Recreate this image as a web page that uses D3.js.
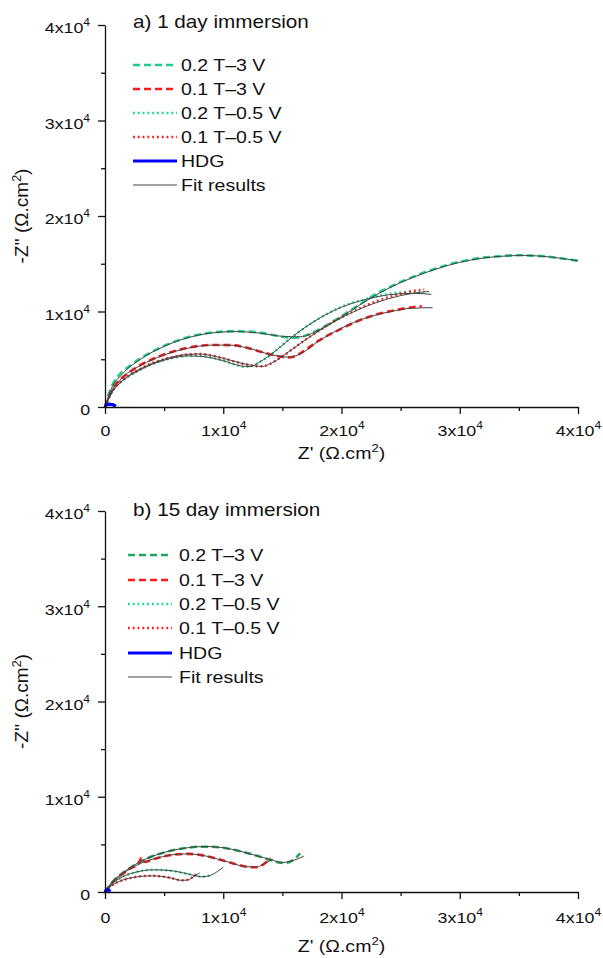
<!DOCTYPE html>
<html><head><meta charset="utf-8">
<script src="https://cdn.jsdelivr.net/npm/d3@7"></script>
<style>
html,body{margin:0;padding:0;background:#fff;}
svg{display:block;font-family:"Liberation Sans",Arial,sans-serif;}
</style></head>
<body>
<svg id="chart" width="603" height="958"></svg>
<script>
// ---------- DATA ----------
const xTicksMajor = [0, 10000, 20000, 30000, 40000];
const yTicksMajor = [0, 10000, 20000, 30000, 40000];
const ticksMinor = [5000, 15000, 25000, 35000];
const legendLabels = ["0.2 T\u20133 V", "0.1 T\u20133 V", "0.2 T\u20130.5 V", "0.1 T\u20130.5 V", "HDG", "Fit results"];
const panelTitles = ["a) 1 day immersion", "b) 15 day immersion"];

// Panel a) 1 day immersion  [Z', -Z'']
const day1_02T3V = [[0,0],[300,1300],[700,2500],[1300,3500],[2000,4200],[3000,5100],[4000,5800],[5000,6400],[6000,6900],[7000,7300],[8000,7600],[9000,7800],[10000,7900],[11000,7950],[12000,7900],[13000,7800],[14000,7600],[15000,7350],[16000,7250],[17000,7500],[18000,8050],[19000,8750],[20000,9500],[21000,10300],[22000,11100],[23000,11900],[24000,12500],[25000,13100],[26000,13600],[27000,14100],[28000,14500],[29000,14900],[30000,15200],[31000,15450],[32000,15650],[33000,15750],[34000,15850],[35000,15900],[36000,15850],[37000,15800],[38000,15650],[39000,15500],[40000,15300]];
const day1_01T3V = [[0,0],[300,1000],[700,2000],[1300,2900],[2000,3600],[3000,4400],[4000,5000],[5000,5500],[6000,5900],[7000,6200],[8000,6400],[9000,6500],[10000,6500],[11000,6450],[12000,6200],[13000,5850],[14000,5500],[15000,5250],[15500,5200],[16000,5300],[17000,6000],[18000,6900],[19000,7600],[20000,8200],[21000,8800],[22000,9300],[23000,9700],[24000,10000],[25000,10250],[26000,10450],[26800,10550]];
const day1_02T05V = [[0,0],[300,900],[700,1800],[1300,2600],[2000,3200],[3000,3900],[4000,4500],[5000,4900],[6000,5200],[7000,5350],[8000,5350],[9000,5150],[10000,4850],[11000,4450],[11800,4200],[12300,4250],[13000,4650],[14000,5450],[15000,6500],[16000,7500],[17000,8400],[18000,9200],[19000,9900],[20000,10500],[21000,10950],[22000,11300],[23000,11600],[24000,11850],[25000,12000],[26000,12050],[27000,12000]];
const day1_01T05V = [[0,0],[300,900],[700,1800],[1300,2600],[2000,3300],[3000,4000],[4000,4600],[5000,5000],[6000,5300],[7000,5500],[8000,5550],[9000,5400],[10000,5100],[11000,4750],[12000,4450],[13000,4250],[13500,4300],[14000,4550],[15000,5300],[16000,6200],[17000,7100],[18000,7900],[19000,8700],[20000,9400],[21000,10000],[22000,10600],[23000,11100],[24000,11500],[25000,11850],[26000,12150],[27000,12300]];
const day1_HDG = [[0,0],[100,180],[250,280],[450,300],[650,250],[800,150],[900,60]];
const day1_fit_02T3V = [[0,0],[500,1800],[1500,3500],[3000,5000],[5000,6350],[7000,7250],[9000,7750],[11000,7900],[13000,7750],[15000,7400],[16500,7350],[18000,8000],[20000,9450],[22000,11050],[24000,12450],[26000,13550],[28000,14450],[30000,15150],[32000,15600],[34000,15820],[35500,15870],[37000,15780],[39000,15500],[40000,15300]];
const day1_fit_01T3V = [[0,0],[500,1500],[1500,3100],[3000,4350],[5000,5450],[7000,6150],[9000,6480],[10500,6480],[12000,6200],[14000,5500],[15500,5220],[16500,5550],[18000,6850],[20000,8250],[22000,9300],[24000,9950],[26000,10350],[27700,10400]];
const day1_fit_02T05V = [[0,0],[500,1350],[1500,2750],[3000,3900],[5000,4900],[7000,5350],[8500,5250],[10000,4850],[11500,4300],[12300,4230],[13000,4650],[14500,5950],[16000,7500],[18000,9200],[20000,10450],[22000,11250],[24000,11750],[26000,11900],[27600,11800]];
const day1_fit_01T05V = [[0,0],[500,1350],[1500,2800],[3000,4000],[5000,5000],[7000,5500],[8000,5550],[10000,5100],[12000,4450],[13300,4250],[14000,4550],[16000,6200],[18000,7900],[20000,9350],[22000,10500],[24000,11350],[26000,11900],[27400,12100]];

// Panel b) 15 day immersion
const day15_02T3V = [[0,0],[400,700],[900,1400],[1500,2000],[2200,2600],[3000,3200],[4000,3750],[5000,4150],[6000,4450],[7000,4650],[8000,4750],[9000,4750],[10000,4650],[11000,4400],[12000,4100],[13000,3750],[14000,3350],[14700,3100],[15300,3050],[15900,3350],[16500,4050]];
const day15_01T3V = [[0,0],[400,650],[900,1300],[1500,1900],[2200,2500],[2800,2900],[3100,3600],[3400,3150],[4000,3400],[5000,3750],[6000,3950],[7000,4000],[8000,3900],[9000,3650],[10000,3300],[11000,2950],[12000,2650],[12700,2600],[13200,2750],[13700,3200],[14000,3550]];
const day15_02T05V = [[0,0],[300,500],[700,1000],[1200,1400],[1800,1750],[2500,2050],[3200,2250],[4000,2330],[5000,2300],[6000,2150],[7000,1900],[7800,1650],[8400,1600],[8900,1750]];
const day15_01T05V = [[0,0],[300,400],[700,800],[1200,1100],[1800,1350],[2500,1550],[3200,1680],[4000,1700],[5000,1600],[5800,1400],[6400,1220],[6900,1250],[7400,1550],[7800,1950]];
const day15_HDG = [[0,0],[80,150],[180,230],[300,220],[380,120],[420,40]];
const day15_fit_02T3V = [[0,0],[500,900],[1500,2000],[3000,3200],[5000,4150],[7000,4650],[8500,4780],[10000,4650],[12000,4100],[14000,3400],[15000,3100],[16000,3350],[16800,3750]];
const day15_fit_01T3V = [[0,0],[500,800],[1500,1900],[3000,3000],[4500,3600],[6000,3950],[7000,4000],[8000,3900],[10000,3300],[12000,2650],[12800,2620],[13500,3000],[14200,3450]];
const day15_fit_02T05V = [[0,0],[500,750],[1500,1600],[2500,2050],[4000,2330],[5500,2250],[7000,1900],[8200,1600],[8800,1700],[9500,2150],[10000,2600]];
const day15_fit_01T05V = [[0,0],[500,600],[1500,1250],[2500,1550],[4000,1700],[5500,1500],[6500,1220],[7000,1270],[7600,1700],[8000,2000]];

// ---------- STYLES ----------
const colGreenDash = ["#1fce88", "#22a85e"];
const colGreenDot = "#12dc92";
const colRed = "#ff1a1a";
const colBlue = "#0000ff";
const colFit = "#444";
const SX = 1.15; // horizontal stretch of the lettering in the reference

const panels = [
  {top:25, bottom:407, title: panelTitles[0], titleY: 28, legX: 133, legTextX: 181, legY: [65,89,113,137,161,185],
   tickLabY: 29, xTitleY: 459,
   series: [day1_02T3V, day1_01T3V, day1_02T05V, day1_01T05V, day1_HDG],
   fits: [day1_fit_02T3V, day1_fit_01T3V, day1_fit_02T05V, day1_fit_01T05V]},
  {top:511, bottom:892, title: panelTitles[1], titleY: 516, legX: 128, legTextX: 179, legY: [555,580,604,628,653,677],
   tickLabY: 31, xTitleY: 952,
   series: [day15_02T3V, day15_01T3V, day15_02T05V, day15_01T05V, day15_HDG],
   fits: [day15_fit_02T3V, day15_fit_01T3V, day15_fit_02T05V, day15_fit_01T05V]}
];

const svg = d3.select("#chart");
const X0 = 105, X1 = 578;

function fmt(sel){
  sel.each(function(d){
    const t = d3.select(this);
    t.text(null);
    if (d === 0) { t.append("tspan").text("0"); return; }
    t.append("tspan").text((d/1e4) + "x10");
    t.append("tspan").attr("dy", -7).attr("font-size", 10.5).text("4");
  });
}

function stretchedText(parent, x, y, size, anchor){
  return parent.append("text")
    .attr("transform", `translate(${x},${y}) scale(${SX},1)`)
    .attr("text-anchor", anchor || "start")
    .attr("font-size", size).attr("fill", "#111");
}

panels.forEach((p, pi) => {
  const x = d3.scaleLinear().domain([0, 40000]).range([X0, X1]);
  const y = d3.scaleLinear().domain([0, 40000]).range([p.bottom, p.top]);
  const g = svg.append("g");

  const styles = [
    {color: colGreenDash[pi], dash: "7,4", w: 2.6},
    {color: colRed, dash: "7,4", w: 2.6},
    {color: colGreenDot, dash: "1.8,3", w: 2.4},
    {color: colRed, dash: "1.8,3", w: 2.4},
    {color: colBlue, dash: null, w: 3},
    {color: colFit, dash: null, w: 1}
  ];

  const line = d3.line().x(d => x(d[0])).y(d => y(d[1])).curve(d3.curveMonotoneX);

  p.series.forEach((s, i) => {
    g.append("path").datum(s).attr("d", line).attr("fill", "none")
      .attr("stroke", styles[i].color).attr("stroke-width", styles[i].w)
      .attr("stroke-dasharray", styles[i].dash);
  });
  p.fits.forEach(f => {
    g.append("path").datum(f).attr("d", line).attr("fill", "none")
      .attr("stroke", colFit).attr("stroke-width", 1);
  });
  g.append("path").datum(p.series[4]).attr("d", line).attr("fill", "none")
    .attr("stroke", colBlue).attr("stroke-width", 3);

  // axes
  const axB = g.append("g").attr("transform", `translate(0,${p.bottom})`)
    .call(d3.axisBottom(x).tickValues(xTicksMajor).tickSize(7).tickSizeOuter(0));
  const axBm = g.append("g").attr("transform", `translate(0,${p.bottom})`)
    .call(d3.axisBottom(x).tickValues(ticksMinor).tickSize(4).tickFormat(""));
  axBm.select(".domain").remove();
  const axL = g.append("g").attr("transform", `translate(${X0},0)`)
    .call(d3.axisLeft(y).tickValues(yTicksMajor).tickSize(7).tickSizeOuter(0).tickPadding(6));
  const axLm = g.append("g").attr("transform", `translate(${X0},0)`)
    .call(d3.axisLeft(y).tickValues(ticksMinor).tickSize(4).tickFormat(""));
  axLm.select(".domain").remove();
  [axB, axL, axBm, axLm].forEach(a => {
    a.selectAll("path,line").attr("stroke", "#111").attr("stroke-width", 1.3);
    a.selectAll("text").attr("font-size", 15.5).attr("fill", "#111")
      .attr("font-family", "Liberation Sans, Arial, sans-serif");
  });
  axB.selectAll(".tick text").call(fmt)
    .attr("y", p.tickLabY).attr("dy", 0).attr("transform", `scale(${SX},1)`);
  axL.selectAll(".tick text").call(fmt)
    .attr("dy", "0.5em").attr("transform", `scale(${SX},1)`);

  // axis titles
  const xt = stretchedText(g, (X0 + X1) / 2, p.xTitleY, 17, "middle");
  xt.append("tspan").text("Z' (\u03A9.cm");
  xt.append("tspan").attr("dy", -7).attr("font-size", 11.5).text("2");
  xt.append("tspan").attr("dy", 7).text(")");

  const yt = g.append("text")
    .attr("transform", `translate(28,${(p.top + p.bottom) / 2}) rotate(-90)`)
    .attr("text-anchor", "middle").attr("font-size", 19).attr("fill", "#111");
  yt.append("tspan").text("-Z'' (\u03A9.cm");
  yt.append("tspan").attr("dy", -7).attr("font-size", 12.5).text("2");
  yt.append("tspan").attr("dy", 7).text(")");

  // panel title
  stretchedText(g, 133, p.titleY, 18).text(p.title);

  // legend
  legendLabels.forEach((lab, i) => {
    const ly = p.legY[i];
    g.append("line").attr("x1", p.legX).attr("x2", p.legX + 44).attr("y1", ly).attr("y2", ly)
      .attr("stroke", styles[i].color).attr("stroke-width", i === 5 ? 1.2 : styles[i].w)
      .attr("stroke-dasharray", styles[i].dash);
    stretchedText(g, p.legTextX, ly + 6, 17).text(lab);
  });
});
</script>
</body></html>
